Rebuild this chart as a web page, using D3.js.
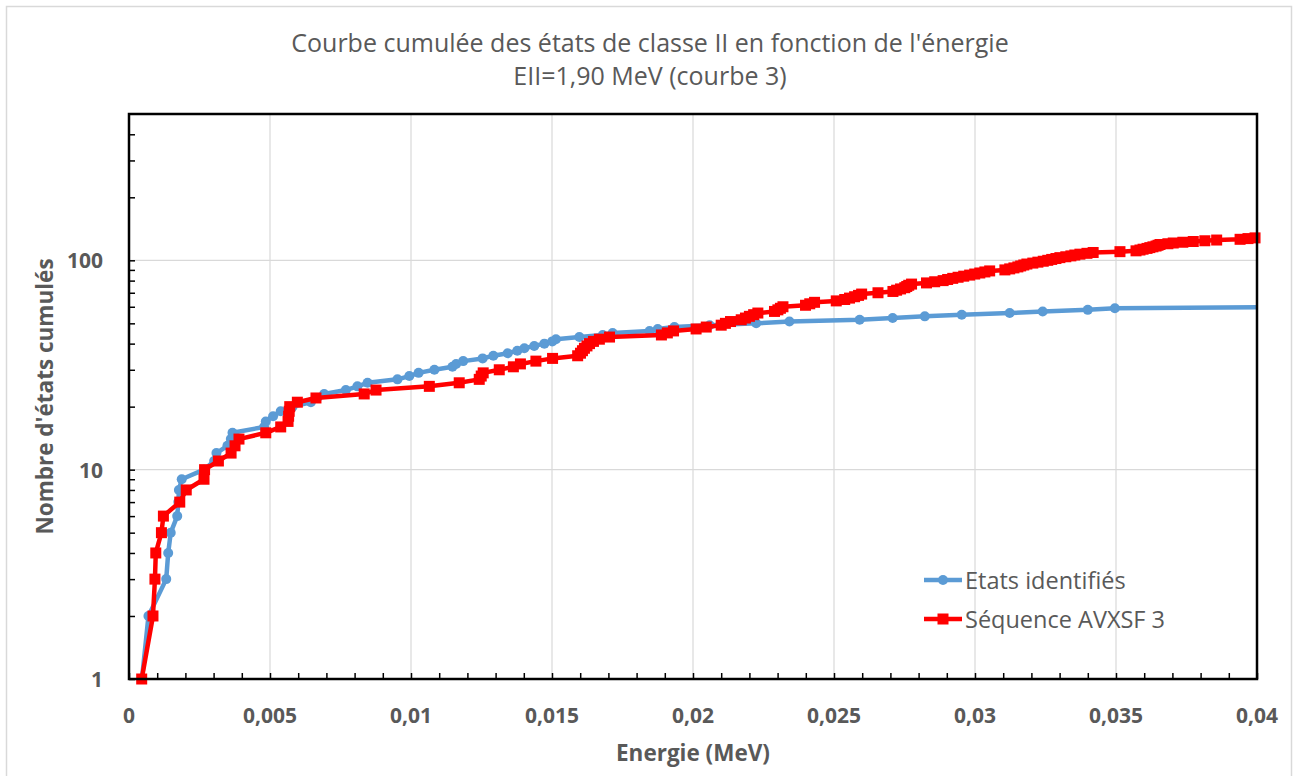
<!DOCTYPE html>
<html>
<head>
<meta charset="utf-8">
<script src="https://cdn.jsdelivr.net/npm/d3@7"></script>
<style>
  body { margin: 0; background: #fff; }
  svg { display: block; }
  text { font-family: "Open Sans", "DejaVu Sans", sans-serif; fill: #595959; }
</style>
</head>
<body>
<svg id="chart" width="1300" height="776"></svg>
<script>
// Cumulative counts of class II states versus energy (MeV)
const identEnergy = [0.00046, 0.00069, 0.00132, 0.00139, 0.00148, 0.00171, 0.00175, 0.00177, 0.00187, 0.00266,
  0.00302, 0.0031, 0.00349, 0.00361, 0.00367, 0.00479, 0.00485, 0.00511, 0.00538, 0.0058,
  0.00645, 0.00667, 0.00692, 0.00769, 0.0081, 0.00846, 0.00952, 0.00994, 0.01027, 0.01083,
  0.01147, 0.0116, 0.01185, 0.01254, 0.01292, 0.01343, 0.01377, 0.01402, 0.01437, 0.01473,
  0.01501, 0.01514, 0.01597, 0.0168, 0.01715, 0.01846, 0.01875, 0.01934, 0.02059, 0.02224,
  0.02342, 0.02591, 0.02708, 0.02822, 0.02953, 0.03123, 0.0324, 0.034, 0.03496, 0.042];
const identCount = [1, 2, 3, 4, 5, 6, 7, 8, 9, 10,
  11, 12, 13, 14, 15, 16, 17, 18, 19, 20,
  21, 22, 23, 24, 25, 26, 27, 28, 29, 30,
  31, 32, 33, 34, 35, 36, 37, 38, 39, 40,
  41, 42, 43, 44, 45, 46, 47, 48, 49, 50,
  51, 52, 53, 54, 55, 56, 57, 58, 59, 60];

const avxsfEnergy = [0.00045, 0.00085, 0.00092, 0.00095, 0.00115, 0.00122, 0.0018, 0.00203, 0.00266, 0.00268,
  0.00317, 0.00362, 0.00376, 0.0039, 0.00485, 0.00538, 0.00564, 0.00566, 0.00568, 0.0057,
  0.00597, 0.00663, 0.00834, 0.00876, 0.01065, 0.01171, 0.01242, 0.01249, 0.01256, 0.01313,
  0.01363, 0.01388, 0.01443, 0.01502, 0.01591, 0.01601, 0.01608, 0.01615, 0.01624, 0.01633,
  0.01647, 0.01668, 0.01704, 0.01888, 0.01909, 0.01931, 0.02011, 0.02047, 0.021, 0.02115,
  0.02133, 0.02171, 0.02186, 0.022, 0.02215, 0.0223, 0.02289, 0.02301, 0.0231, 0.02319,
  0.02399, 0.02414, 0.02431, 0.02508, 0.02538, 0.02555, 0.02573, 0.02587, 0.02598, 0.02656,
  0.02709, 0.02722, 0.02736, 0.02751, 0.02758, 0.02765, 0.02775, 0.02828, 0.02857, 0.02887,
  0.02903, 0.02921, 0.0294, 0.0296, 0.02981, 0.02999, 0.03017, 0.03035, 0.03052, 0.03106,
  0.03123, 0.03138, 0.03152, 0.03162, 0.03173, 0.03184, 0.03205, 0.03223, 0.03242, 0.03258,
  0.03272, 0.03287, 0.03301, 0.03322, 0.0334, 0.03354, 0.03372, 0.03397, 0.03419, 0.03514,
  0.03571, 0.03585, 0.03596, 0.0361, 0.0362, 0.03631, 0.03642, 0.03649, 0.03656, 0.03684,
  0.03703, 0.03737, 0.03774, 0.03815, 0.03857, 0.0394, 0.03968, 0.03993];
const avxsfCount = [1, 2, 3, 4, 5, 6, 7, 8, 9, 10,
  11, 12, 13, 14, 15, 16, 17, 18, 19, 20,
  21, 22, 23, 24, 25, 26, 27, 28, 29, 30,
  31, 32, 33, 34, 35, 36, 37, 38, 39, 40,
  41, 42, 43, 44, 45, 46, 47, 48, 49, 50,
  51, 52, 53, 54, 55, 56, 57, 58, 59, 60,
  61, 62, 63, 64, 65, 66, 67, 68, 69, 70,
  71, 72, 73, 74, 75, 76, 77, 78, 79, 80,
  81, 82, 83, 84, 85, 86, 87, 88, 89, 90,
  91, 92, 93, 94, 95, 96, 97, 98, 99, 100,
  101, 102, 103, 104, 105, 106, 107, 108, 109, 110,
  111, 112, 113, 114, 115, 116, 117, 118, 119, 120,
  121, 122, 123, 124, 125, 126, 127, 128];

const seriesNames = ["Etats identifiés", "Séquence AVXSF 3"];
const titleLines = ["Courbe cumulée des états de classe II en fonction de l'énergie", "EII=1,90 MeV (courbe 3)"];
const xTitle = "Energie (MeV)";
const yTitle = "Nombre d'états cumulés";

const xTickValues = [0, 0.005, 0.01, 0.015, 0.02, 0.025, 0.03, 0.035, 0.04];
const xTickLabels = ["0", "0,005", "0,01", "0,015", "0,02", "0,025", "0,03", "0,035", "0,04"];
const yTickValues = [1, 10, 100];
const yTickLabels = ["1", "10", "100"];

const svg = d3.select("#chart");
const W = 1300, H = 776;
const plot = { left: 129, top: 114, right: 1257, bottom: 679 };

const x = d3.scaleLinear().domain([0, 0.04]).range([plot.left, plot.right]);
const y = d3.scaleLog().domain([1, 500]).range([plot.bottom, plot.top]);

// chart background and outer border
svg.append("rect").attr("x", 0).attr("y", 0).attr("width", W).attr("height", H).attr("fill", "#fff");
svg.append("rect").attr("x", 6.5).attr("y", 6.5).attr("width", 1285).attr("height", 800)
  .attr("fill", "none").attr("stroke", "#d9d9d9").attr("stroke-width", 1.5);

// titles
svg.append("g").selectAll("text").data(titleLines).join("text")
  .attr("x", 650).attr("y", (d, i) => 42 + i * 33)
  .attr("text-anchor", "middle").attr("dominant-baseline", "central")
  .style("font-size", "25px")
  .text(d => d);

// gridlines
const grid = svg.append("g");
grid.selectAll("line.vg").data(xTickValues.slice(1, -1)).join("line")
  .attr("x1", d => x(d)).attr("x2", d => x(d)).attr("y1", plot.top).attr("y2", plot.bottom)
  .attr("stroke", "#d9d9d9").attr("stroke-width", 1.2);
grid.selectAll("line.hg").data(yTickValues.slice(1)).join("line")
  .attr("x1", plot.left).attr("x2", plot.right).attr("y1", d => y(d)).attr("y2", d => y(d))
  .attr("stroke", "#d9d9d9").attr("stroke-width", 1.2);

// axes with inward ticks
const xMinor = d3.range(0, 41).map(i => i / 1000);
const yMinor = [1, 2, 3, 4, 5, 6, 7, 8, 9, 10, 20, 30, 40, 50, 60, 70, 80, 90, 100, 200, 300, 400];

const xAxis = d3.axisBottom(x).tickValues(xMinor).tickSizeInner(-6).tickSizeOuter(0).tickFormat("");
svg.append("g").attr("transform", `translate(0,${plot.bottom})`).call(xAxis)
  .call(g => g.selectAll("line").attr("stroke", "#000").attr("stroke-width", 1.5))
  .call(g => g.select(".domain").remove());

const yAxis = d3.axisLeft(y).tickValues(yMinor).tickSizeInner(-6).tickSizeOuter(0).tickFormat("");
svg.append("g").attr("transform", `translate(${plot.left},0)`).call(yAxis)
  .call(g => g.selectAll("line").attr("stroke", "#000").attr("stroke-width", 1.5))
  .call(g => g.select(".domain").remove());

// tick labels
svg.append("g").selectAll("text").data(xTickValues).join("text")
  .attr("x", d => x(d)).attr("y", 715)
  .attr("text-anchor", "middle").attr("dominant-baseline", "central")
  .style("font-size", "21px").style("font-weight", "700")
  .text((d, i) => xTickLabels[i]);
svg.append("g").selectAll("text").data(yTickValues).join("text")
  .attr("x", 103).attr("y", d => y(d))
  .attr("text-anchor", "end").attr("dominant-baseline", "central")
  .style("font-size", "21px").style("font-weight", "700")
  .text((d, i) => yTickLabels[i]);

// axis titles
svg.append("text").attr("x", (plot.left + plot.right) / 2).attr("y", 752)
  .attr("text-anchor", "middle").attr("dominant-baseline", "central")
  .style("font-size", "22.5px").style("font-weight", "700").text(xTitle);
svg.append("text").attr("transform", `translate(44,${(plot.top + plot.bottom) / 2}) rotate(-90)`)
  .attr("text-anchor", "middle").attr("dominant-baseline", "central")
  .style("font-size", "22.5px").style("font-weight", "700").text(yTitle);

// clip for the lines
svg.append("defs").append("clipPath").attr("id", "plotClip")
  .append("rect").attr("x", plot.left).attr("y", plot.top - 10)
  .attr("width", plot.right - plot.left).attr("height", plot.bottom - plot.top + 20);

const identPts = identEnergy.map((e, i) => ({ e, n: identCount[i] }));
const avxsfPts = avxsfEnergy.map((e, i) => ({ e, n: avxsfCount[i] }));
const line = d3.line().x(d => x(d.e)).y(d => y(d.n));

const BLUE = "#5b9bd5", RED = "#ff0000";

// identified states
svg.append("path").datum(identPts).attr("d", line).attr("clip-path", "url(#plotClip)")
  .attr("fill", "none").attr("stroke", BLUE).attr("stroke-width", 4.5).attr("stroke-linejoin", "round");
svg.append("g").selectAll("circle").data(identPts.filter(d => d.e <= 0.04)).join("circle")
  .attr("cx", d => x(d.e)).attr("cy", d => y(d.n)).attr("r", 5).attr("fill", BLUE);

// AVXSF sequence
svg.append("path").datum(avxsfPts).attr("d", line).attr("clip-path", "url(#plotClip)")
  .attr("fill", "none").attr("stroke", RED).attr("stroke-width", 4.5).attr("stroke-linejoin", "round");
svg.append("g").selectAll("rect").data(avxsfPts).join("rect")
  .attr("x", d => x(d.e) - 5.5).attr("y", d => y(d.n) - 5.5).attr("width", 11).attr("height", 11).attr("fill", RED);

// plot frame
svg.append("rect").attr("x", plot.left).attr("y", plot.top)
  .attr("width", plot.right - plot.left).attr("height", plot.bottom - plot.top)
  .attr("fill", "none").attr("stroke", "#000").attr("stroke-width", 2.5);

// legend
const legend = svg.append("g");
const legendRows = [
  { name: seriesNames[0], color: BLUE, shape: "circle" },
  { name: seriesNames[1], color: RED, shape: "square" }
];
legendRows.forEach((r, i) => {
  const ly = 580 + i * 39;
  legend.append("line").attr("x1", 924).attr("x2", 962).attr("y1", ly).attr("y2", ly)
    .attr("stroke", r.color).attr("stroke-width", 4.5);
  if (r.shape === "circle") {
    legend.append("circle").attr("cx", 943).attr("cy", ly).attr("r", 5).attr("fill", r.color);
  } else {
    legend.append("rect").attr("x", 937.5).attr("y", ly - 5.5).attr("width", 11).attr("height", 11).attr("fill", r.color);
  }
  legend.append("text").attr("x", 965).attr("y", ly).attr("dominant-baseline", "central")
    .style("font-size", "23.5px").text(r.name);
});
</script>
</body>
</html>
